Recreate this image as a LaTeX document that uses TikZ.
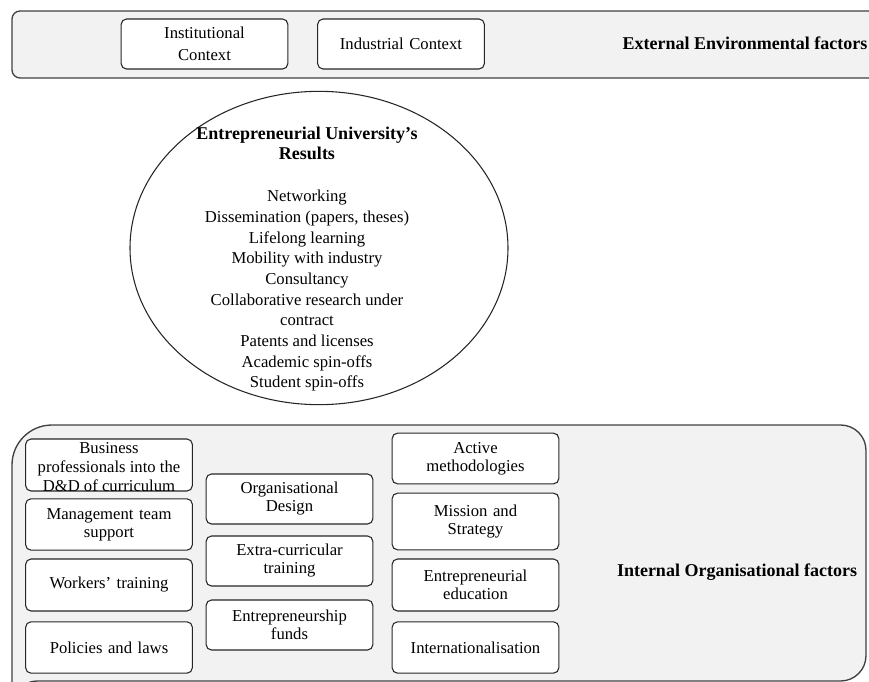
\documentclass[tikz,border=0pt]{standalone}
\usepackage{fontspec}
\setmainfont{Liberation Serif}
\usetikzlibrary{shapes.geometric}
\definecolor{bandgray}{HTML}{F2F2F2}
\definecolor{linegray}{HTML}{404040}
\tikzset{
  band/.style={draw=linegray, fill=bandgray, line width=1pt},
  bandlabel/.style={font=\bfseries\fontsize{13.5}{16}\selectfont},
  factor/.style={draw=black!85, fill=white, rounded corners=4pt, line width=0.8pt,
    align=center, inner sep=0pt, text width=120pt, minimum width=125pt,
    font=\fontsize{12.5}{13.5}\selectfont},
  plaintext/.style={align=center, inner sep=0pt, font=\fontsize{12.5}{14.2}\selectfont},
}
\begin{document}
\begin{tikzpicture}[x=0.75pt,y=-0.75pt]
  \useasboundingbox (0,0) rectangle (869,682);
  % External environmental factors
  \draw[band, rounded corners=6pt] (12,11) rectangle (890,78);
  \node[factor, minimum height=37.5pt] (inst) at (204.5,44) {Institutional\\[3pt]Context};
  \node[factor, minimum height=37.5pt] (indus) at (401,44) {Industrial Context};
  \node[bandlabel] (external) at (745,43) {External Environmental factors};
  % Results
  \node[draw=black!85, line width=0.8pt, ellipse, minimum width=283.5pt, minimum height=235pt] (results) at (319,248) {};
  \node[plaintext, font=\fontsize{12.5}{15.5}\selectfont] (resultslist) at (307,259)
    {\textbf{\fontsize{13.5}{16.2}\selectfont Entrepreneurial University’s}\\
     \textbf{\fontsize{13.5}{16.2}\selectfont Results}\\[16pt]
     Networking\\
     Dissemination (papers, theses)\\
     Lifelong learning\\
     Mobility with industry\\
     Consultancy\\
     Collaborative research under\\
     contract\\
     Patents and licenses\\
     Academic spin-offs\\
     Student spin-offs};
  % Internal organisational factors
  \draw[band] (12,690) [rounded corners=30pt] -- (12,425)
    [rounded corners=19pt] -- (866,425) -- (866,681) -- (12,681) -- cycle;
  \node[bandlabel] (internal) at (737,572) {Internal Organisational factors};
  % left column
  \node[factor, minimum height=39pt] (business) at (109,465) {};
  \node[plaintext] (businesstext) at (109,467) {Business\\professionals into the\\D\&D of curriculum};
  \node[factor, minimum height=38.5pt] (manage) at (109,524.5) {Management team\\support};
  \node[factor, minimum height=39pt] (workers) at (109,585) {Workers’ training};
  \node[factor, minimum height=38.5pt] (policies) at (109,647.5) {Policies and laws};
  % middle column
  \node[factor, minimum height=37.5pt] (orgdesign) at (289.5,499) {Organisational\\Design};
  \node[factor, minimum height=37.5pt] (extra) at (289.5,561) {Extra-curricular\\training};
  \node[factor, minimum height=37.5pt] (funds) at (289.5,625) {Entrepreneurship\\funds};
  % right column
  \node[factor, minimum height=38pt] (active) at (475.5,458.5) {Active\\methodologies};
  \node[factor, minimum height=42.5pt] (mission) at (475.5,521.5) {Mission and\\Strategy};
  \node[factor, minimum height=39pt] (entedu) at (475.5,585) {Entrepreneurial\\education};
  \node[factor, minimum height=38.5pt] (intl) at (475.5,647.5) {Internationalisation};
\end{tikzpicture}
\end{document}
